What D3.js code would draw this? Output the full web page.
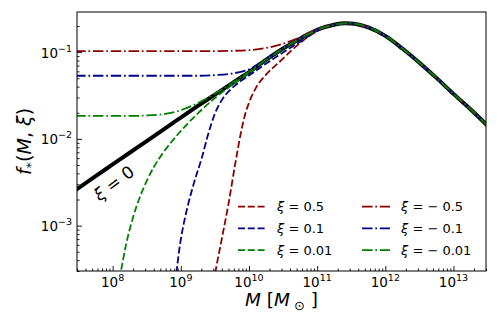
<!DOCTYPE html>
<html>
<head>
<meta charset="utf-8">
<script src="https://cdn.jsdelivr.net/npm/d3@7"></script>
<style>
  html, body { margin: 0; padding: 0; background: #fff; }
  svg { display: block; font-family: "DejaVu Sans", sans-serif; }
</style>
</head>
<body>
<svg id="chart" width="498" height="332"></svg>
<script>

// log10 of halo mass for the shared grid (xi = 0 and the xi < 0 curves)
const gridLogM = [7.45, 7.75, 8.0, 8.25, 8.5, 8.75, 9.0, 9.25, 9.5, 9.75, 10.0, 10.25, 10.5,
    10.75, 11.0, 11.25, 11.4, 11.5, 11.75, 12.0, 12.25, 12.5, 12.75, 13.0, 13.25, 13.5];

// f_*(M, 0), the thick black curve
const fXi0 = [0.00255, 0.00372, 0.00507, 0.00692, 0.00944, 0.0129, 0.0176, 0.0240, 0.0324,
    0.0437, 0.0589, 0.0813, 0.110, 0.143, 0.181, 0.207, 0.215, 0.214, 0.193, 0.154, 0.110,
    0.0755, 0.0505, 0.0330, 0.0220, 0.0142];

// dash-dot curves, same grid
const fXiM05 = [0.1026, 0.1026, 0.1026, 0.1026, 0.1026, 0.1026, 0.1026, 0.1026, 0.1028,
    0.1034, 0.1053, 0.1115, 0.125, 0.148, 0.184, 0.208, 0.215, 0.214, 0.193, 0.154, 0.110,
    0.0755, 0.0505, 0.0330, 0.0220, 0.0142];
const fXiM01 = [0.0534, 0.0534, 0.0534, 0.0534, 0.0534, 0.0534, 0.0534, 0.0534, 0.0543,
    0.0566, 0.0635, 0.0835, 0.1115, 0.1435, 0.181, 0.207, 0.215, 0.214, 0.193, 0.154, 0.110,
    0.0755, 0.0505, 0.0330, 0.0220, 0.0142];
const fXiM001 = [0.0184, 0.0184, 0.0184, 0.0184, 0.0186, 0.0193, 0.0214, 0.0259, 0.0332,
    0.0440, 0.0592, 0.0815, 0.110, 0.143, 0.181, 0.207, 0.215, 0.214, 0.193, 0.154, 0.110,
    0.0755, 0.0505, 0.0330, 0.0220, 0.0142];

// dashed curves (xi > 0) have their own mass samples
const logM05 = [9.48, 9.52, 9.6, 9.7, 9.8, 9.9, 9.95, 10.0, 10.1, 10.25, 10.45, 10.65, 10.8,
    11.0, 11.25, 11.4, 11.5, 11.75, 12.0, 12.25, 12.5, 12.75, 13.0, 13.25, 13.5];
const fXi05 = [0.000219, 0.000331, 0.000695, 0.00179, 0.00525, 0.0138, 0.0200, 0.0260, 0.0385,
    0.055, 0.0774, 0.109, 0.137, 0.175, 0.206, 0.215, 0.214, 0.193, 0.154, 0.110, 0.0755,
    0.0505, 0.0330, 0.0220, 0.0142];

const logM01 = [8.92, 8.94, 8.97, 9.0, 9.05, 9.1, 9.2, 9.3, 9.4, 9.5, 9.6, 9.7, 9.85, 10.0,
    10.2, 10.45, 10.75, 11.0, 11.25, 11.4, 11.5, 11.75, 12.0, 12.25, 12.5, 12.75, 13.0, 13.25, 13.5];
const fXi01 = [0.000219, 0.000302, 0.000479, 0.000692, 0.00112, 0.00166, 0.00324, 0.00575,
    0.0112, 0.0195, 0.0279, 0.0351, 0.0447, 0.0537, 0.0692, 0.0933, 0.132, 0.176, 0.206, 0.215,
    0.214, 0.193, 0.154, 0.110, 0.0755, 0.0505, 0.0330, 0.0220, 0.0142];

const logM001 = [8.1, 8.2, 8.3, 8.4, 8.5, 8.6, 8.75, 8.9, 9.05, 9.25, 9.5, 9.75, 10.0, 10.25,
    10.5, 10.75, 11.0, 11.25, 11.4, 11.5, 11.75, 12.0, 12.25, 12.5, 12.75, 13.0, 13.25, 13.5];
const fXi001 = [0.00024, 0.000621, 0.00125, 0.00214, 0.00327, 0.00467, 0.00708, 0.0100,
    0.0136, 0.0197, 0.0295, 0.0417, 0.0575, 0.0810, 0.110, 0.143, 0.181, 0.207, 0.215, 0.214,
    0.193, 0.154, 0.110, 0.0755, 0.0505, 0.0330, 0.0220, 0.0142];

// legend order (column by column)
const xiLabels = ["0.5", "0.1", "0.01", "− 0.5", "− 0.1", "− 0.01"];

// tick labels
const xTickExp = ["8", "9", "10", "11", "12", "13"];
const yTickExp = ["−3", "−2", "−1"];

/*
|--------------------------------------------------------------------------
| Layout
|--------------------------------------------------------------------------
*/

const plot = { left: 77, right: 486, top: 12, bottom: 271 };

const x = d3.scaleLog().domain([3e7, 3e13]).range([plot.left, plot.right]);
const y = d3.scaleLog().domain([3e-4, 0.29]).range([plot.bottom, plot.top]);

const red = "#8b0000", blue = "#00008b", green = "#008000";
const dashed = "7,2.8";
const dashDot = "10.5,2.8,1.7,2.8";

const series = [
    { logM: logM05, f: fXi05, color: red, dash: dashed },
    { logM: logM01, f: fXi01, color: blue, dash: dashed },
    { logM: logM001, f: fXi001, color: green, dash: dashed },
    { logM: gridLogM, f: fXiM05, color: red, dash: dashDot },
    { logM: gridLogM, f: fXiM01, color: blue, dash: dashDot },
    { logM: gridLogM, f: fXiM001, color: green, dash: dashDot }
];

const svg = d3.select("#chart");

const line = d3.line()
    .x(d => x(d[0]))
    .y(d => y(d[1]))
    .curve(d3.curveMonotoneX);

const pairs = (logM, f) => logM.map((v, i) => [Math.pow(10, v), f[i]]);

svg.append("clipPath")
    .attr("id", "plot-clip")
    .append("rect")
    .attr("x", plot.left)
    .attr("y", plot.top)
    .attr("width", plot.right - plot.left)
    .attr("height", plot.bottom - plot.top);

const curves = svg.append("g").attr("clip-path", "url(#plot-clip)");

/*
|--------------------------------------------------------------------------
| Curves
|--------------------------------------------------------------------------
*/

curves.append("path")
    .attr("d", line(pairs(gridLogM, fXi0)))
    .attr("fill", "none")
    .attr("stroke", "#000")
    .attr("stroke-width", 4);

series.forEach(s => {
    curves.append("path")
        .attr("d", line(pairs(s.logM, s.f)))
        .attr("fill", "none")
        .attr("stroke", s.color)
        .attr("stroke-width", 1.8)
        .attr("stroke-dasharray", s.dash);
});

// label along the black line
svg.append("text")
    .attr("transform", "translate(117.5,188) rotate(-37)")
    .attr("text-anchor", "middle")
    .style("font-size", "17px")
    .call(t => {
        t.append("tspan").style("font-style", "italic").text("ξ");
        t.append("tspan").text(" = 0");
    });

/*
|--------------------------------------------------------------------------
| Axes
|--------------------------------------------------------------------------
*/

const xMajor = xTickExp.map(e => Math.pow(10, +e));
const yMajor = yTickExp.map(e => Math.pow(10, +e.replace("−", "-")));

const minorTicks = (scale) => {
    const [lo, hi] = scale.domain();
    const out = [];
    for (let k = Math.floor(Math.log10(lo)); k <= Math.ceil(Math.log10(hi)); k++) {
        for (let m = 2; m <= 9; m++) {
            const v = m * Math.pow(10, k);
            if (v >= lo && v <= hi) out.push(v);
        }
    }
    return out;
};

const xAxisG = svg.append("g").attr("transform", `translate(0,${plot.bottom})`);
xAxisG.append("g").call(d3.axisBottom(x).tickValues(xMajor).tickSize(-5).tickFormat(""));
xAxisG.append("g").call(d3.axisBottom(x).tickValues(minorTicks(x)).tickSize(-2.5).tickFormat(""));

const yAxisG = svg.append("g").attr("transform", `translate(${plot.left},0)`);
yAxisG.append("g").call(d3.axisLeft(y).tickValues(yMajor).tickSize(-5).tickFormat(""));
yAxisG.append("g").call(d3.axisLeft(y).tickValues(minorTicks(y)).tickSize(-2.5).tickFormat(""));

svg.selectAll(".domain").remove();
svg.selectAll(".tick line").attr("stroke", "#000").attr("stroke-width", 0.9);

svg.append("rect")
    .attr("x", plot.left)
    .attr("y", plot.top)
    .attr("width", plot.right - plot.left)
    .attr("height", plot.bottom - plot.top)
    .attr("fill", "none")
    .attr("stroke", "#000")
    .attr("stroke-width", 1);

// tick labels with superscripts
xTickExp.forEach((e, i) => {
    const t = svg.append("text")
        .attr("x", x(xMajor[i]))
        .attr("y", 287)
        .attr("text-anchor", "middle")
        .style("font-size", "13.5px");
    t.append("tspan").text("10");
    t.append("tspan").attr("dy", -6).style("font-size", "9.5px").text(e);
});

yTickExp.forEach((e, i) => {
    const t = svg.append("text")
        .attr("x", 72)
        .attr("y", y(yMajor[i]) + 5.5)
        .attr("text-anchor", "end")
        .style("font-size", "13.5px");
    t.append("tspan").text("10");
    t.append("tspan").attr("dy", -6).style("font-size", "9.5px").text(e);
});

// axis titles
svg.append("text")
    .attr("x", (plot.left + plot.right) / 2)
    .attr("y", 306)
    .attr("text-anchor", "middle")
    .style("font-size", "18.5px")
    .call(t => {
        t.append("tspan").style("font-style", "italic").text("M");
        t.append("tspan").text(" [");
        t.append("tspan").style("font-style", "italic").text("M");
        t.append("tspan").attr("dy", 4).style("font-size", "13px").text(" ⊙");
        t.append("tspan").attr("dy", -4).text(" ]");
    });

svg.append("text")
    .attr("transform", `translate(31,${(plot.top + plot.bottom) / 2}) rotate(-90)`)
    .attr("text-anchor", "middle")
    .style("font-size", "19px")
    .call(t => {
        t.append("tspan").style("font-style", "italic").text("f");
        t.append("tspan").attr("dy", 4).style("font-size", "13px").text("*");
        t.append("tspan").attr("dy", -4).text("(");
        t.append("tspan").style("font-style", "italic").text("M");
        t.append("tspan").text(", ");
        t.append("tspan").style("font-style", "italic").text("ξ");
        t.append("tspan").text(")");
    });

/*
|--------------------------------------------------------------------------
| Legend
|--------------------------------------------------------------------------
*/

const legend = svg.append("g");

series.forEach((s, i) => {
    const col = Math.floor(i / 3), row = i % 3;
    const cy = 206.7 + row * 21.7;
    const x0 = 238 + col * 124;

    legend.append("line")
        .attr("x1", x0)
        .attr("x2", x0 + 28)
        .attr("y1", cy)
        .attr("y2", cy)
        .attr("stroke", s.color)
        .attr("stroke-width", 1.8)
        .attr("stroke-dasharray", s.dash);

    const t = legend.append("text")
        .attr("x", x0 + 39)
        .attr("y", cy + 4.5)
        .style("font-size", "13px");
    t.append("tspan").style("font-style", "italic").text("ξ");
    t.append("tspan").text(" = " + xiLabels[i]);
});

</script>
</body>
</html>
